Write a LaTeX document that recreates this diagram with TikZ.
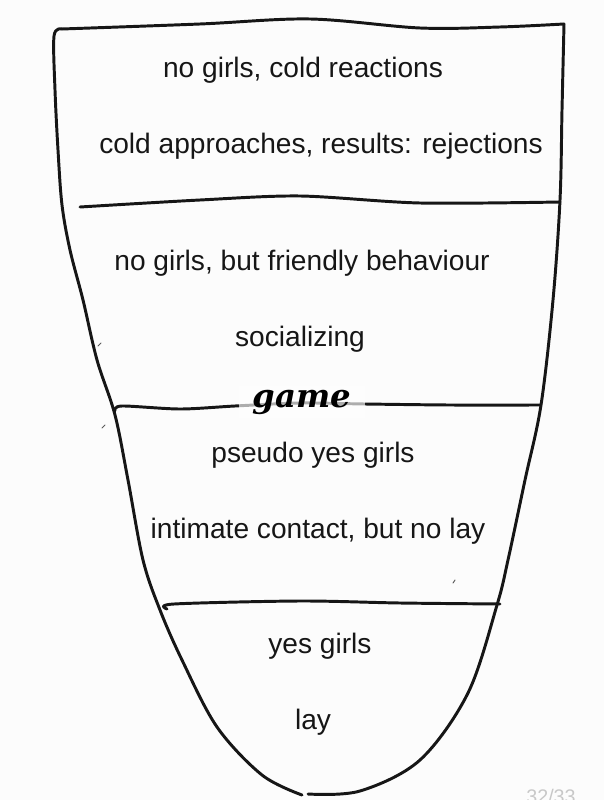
\documentclass[tikz,border=0pt]{standalone}
\usepackage{fontspec}
\setmainfont{Liberation Sans}
\newfontfamily\gamefont{DejaVu Serif}
\usetikzlibrary{positioning}
\definecolor{paper}{RGB}{252, 252, 252}
\definecolor{ink}{RGB}{22, 22, 22}
\definecolor{inkgrey}{RGB}{90, 90, 90}
\definecolor{counter}{RGB}{200, 200, 200}

\begin{document}
\begin{tikzpicture}[
      x=0.025cm, y=-0.025cm,
      pen/.style={draw=ink, line width=2.1pt, line cap=round, line join=round},
      speck/.style={draw=inkgrey, line width=0.7pt, line cap=round},
      lbl/.style={font=\fontsize{20}{24}\selectfont, text=ink, inner sep=0pt, anchor=center},
      gamelbl/.style={font=\gamefont\fontsize{23}{27}\selectfont\bfseries\itshape,
                      text=black, fill=white, fill opacity=0.65, text opacity=1,
                      inner xsep=10pt, inner ysep=3pt},
    ]
    %% page, 604 x 800 px
    \fill[paper] (0,0) rectangle (604,800);
    \useasboundingbox (0,0) rectangle (604,800);
    %% funnel outline, left half
    \draw[pen] plot[smooth, tension=0.55] coordinates {
      (62,29) (54,36) (55,90) (58,150) (62,205) (70,250) (83,300) (97,360)
      (115,415) (128,480) (143,560) (160,610) (182,660) (217,727) (262,775) (302,795)};
    %% funnel outline, top and right half
    \draw[pen] plot[smooth, tension=0.55] coordinates {
      (62,29) (200,24) (310,19) (420,28) (500,27) (564,24)};
    \draw[pen] plot[smooth, tension=0.55] coordinates {
      (564,24) (562,110) (560,200) (553,300) (541,405) (525,480) (508,560)
      (497,605) (468,693) (420,760) (360,791) (308,794)};
    %% band dividers
    \draw[pen] plot[smooth, tension=0.5] coordinates {
      (80,207) (200,200) (300,196) (420,203) (560,202)};
    \draw[pen] plot[smooth, tension=0.5] coordinates {
      (115,411) (122,406) (180,409) (235,406) (300,403) (365,404) (450,405) (540,405)};
    \draw[pen] plot[smooth, tension=0.5] coordinates {
      (167,609) (174,604) (300,601) (400,603) (500,604)};
    %% stray pen marks
    \draw[speck] (98,346) -- (101,343);
    \draw[speck] (102,428) -- (105,425);
    \draw[speck] (453,583) -- (455,580);
    %% band texts
    \node[lbl] (nogirls)  at (303,70)  {no girls, cold reactions};
    \node[lbl] (coldapp)  at (321,146) {cold approaches, results: rejections};
    \node[lbl] (friendly) at (302,263) {no girls, but friendly behaviour};
    \node[lbl] (social)   at (300,339) {socializing};
    \node[gamelbl] (game) at (302,402) {game};
    \node[lbl] (pseudo)   at (313,455) {pseudo yes girls};
    \node[lbl] (intimate) at (318,531) {intimate contact, but no lay};
    \node[lbl] (yesgirls) at (320,646) {yes girls};
    \node[lbl] (lay)      at (313,722) {lay};
    %% page counter, cut by the lower edge
    \node[font=\fontsize{14}{16}\selectfont, text=counter, anchor=north, inner sep=0pt]
      (pagenum) at (551,789) {32/33};
\end{tikzpicture}
\end{document}
